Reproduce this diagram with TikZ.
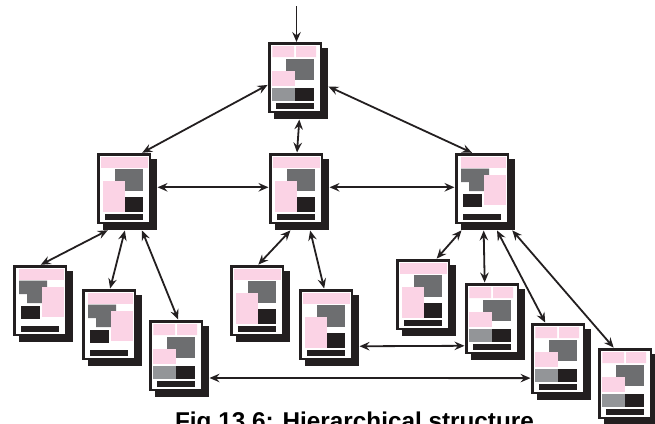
\documentclass[tikz,border=0pt]{standalone}
\usepackage{fontspec}
\setmainfont{Liberation Sans}
\usetikzlibrary{arrows.meta}
\definecolor{pagepink}{HTML}{FBD3E5}
\definecolor{pagedark}{HTML}{6D6E70}
\definecolor{pagegray}{HTML}{939598}
\definecolor{pageblack}{HTML}{231F20}
\tikzset{
  pagebox/.style={minimum width=60pt,minimum height=77pt,inner sep=0pt,outer sep=0pt},
  tip/.style={>={Stealth[length=10pt,width=8.5pt,inset=3.5pt]},line width=1.8pt,color=pageblack},
  link/.style={<->,tip,shorten >=0.5pt,shorten <=0.5pt},
  pageframe/.pic={
    \fill[pageblack] (6,6) rectangle (59.5,76.5);
    \draw[pageblack,line width=2.8pt,fill=white] (1.2,1.2) rectangle (53,70);
    \node[pagebox,anchor=north west] (-box) at (0,0) {};
    \fill[pageblack] (7.6,61) rectangle (46,67);
  },
  pagea/.pic={
    \pic (-) {pageframe};
    \fill[pagepink] (4.3,4) rectangle (26,15) (28,4) rectangle (48,15);
    \fill[pagedark] (18,16.5) rectangle (46,38);
    \fill[pagepink] (4.3,28.5) rectangle (27,44);
    \fill[pagegray] (4.3,45.5) rectangle (27,59);
    \fill[pageblack] (27,45.5) rectangle (46,59);
  },
  pageb/.pic={
    \pic (-) {pageframe};
    \fill[pagepink] (4.3,3.5) rectangle (51,15);
    \fill[pagedark] (18,15.5) rectangle (46,38);
    \fill[pagepink] (6,28) rectangle (28,59);
    \fill[pageblack] (28,44) rectangle (46,59);
  },
  pagec/.pic={
    \pic (-) {pageframe};
    \fill[pagepink] (6,3.5) rectangle (51,15);
    \fill[pagedark] (6,15.5) rectangle (34,29) (14,29) rectangle (29,38);
    \fill[pagepink] (29,22) rectangle (51,52);
    \fill[pageblack] (7.6,41) rectangle (27,54);
  }
}
\begin{document}
\begin{tikzpicture}[x=1pt,y=-1pt]
\useasboundingbox (0,0) rectangle (655,423);
\clip (0,0) rectangle (655,423);

% pages
\pic (top) at (268,42) {pagea};

\pic (left) at (97,153) {pageb};
\pic (mid) at (269,153) {pageb};
\pic (right) at (455,153) {pagec};

\pic (a) at (13,265) {pagec};
\pic (b) at (82,289) {pagec};
\pic (c) at (149,320) {pagea};
\pic (d) at (230,265) {pageb};
\pic (e) at (299,289) {pageb};
\pic (f) at (396,259) {pageb};
\pic (g) at (465,283) {pagea};
\pic (h) at (531,323) {pagea};
\pic (i) at (598,348) {pagea};

% links
\coordinate (entry) at (296.5,6);
\draw[->,tip] (entry) -- (top--box.north -| entry);

\draw[link] (top--box.188) -- (left--box.69);
\draw[link] (top--box.349) -- (right--box.108);
\draw[link] (top--box.272) -- (mid--box.93);

\draw[link] (left--box.8) -- (mid--box.172);
\draw[link] (mid--box.8) -- (right--box.172);

\draw[link] (left--box.244) -- (a--box.94);
\draw[link] (left--box.267) -- (b--box.93);
\draw[link] (left--box.291) -- (c--box.91);
\draw[link] (mid--box.258) -- (d--box.93);
\draw[link] (mid--box.286) -- (e--box.97);
\draw[link] (right--box.239) -- (f--box.75);
\draw[link] (right--box.268) -- (g--box.105);
\draw[link] (right--box.287) -- (h--box.112);
\draw[link] (right--box.305) -- (i--box.110);

\draw[link] (e--box.328) -- (g--box.219);
\draw[link] (c--box.327) -- (h--box.209);

\node[font=\fontsize{24.3}{28}\selectfont\bfseries,anchor=base,inner sep=0pt] (caption) at (354.5,429) {Fig 13.6: Hierarchical structure};

\end{tikzpicture}
\end{document}
